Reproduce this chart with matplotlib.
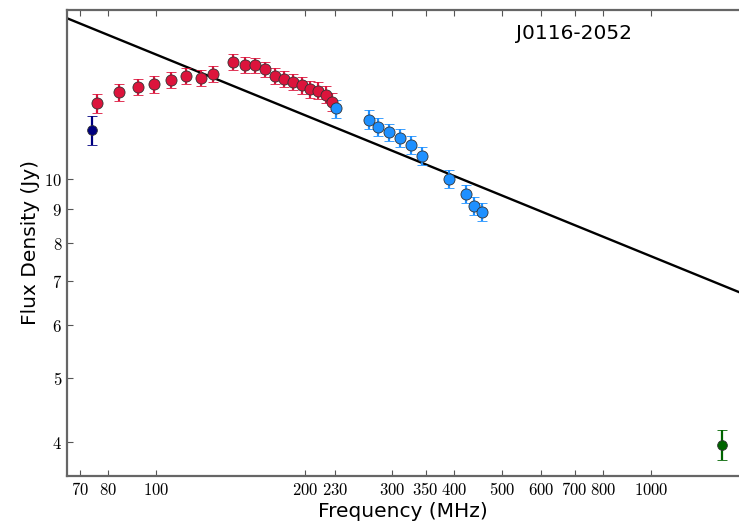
import numpy as np
import matplotlib.pyplot as plt
from matplotlib.ticker import FixedLocator, FixedFormatter, NullLocator

plt.rcParams['mathtext.fontset'] = 'cm'

source = 'J0116-2052'

# VLSSr 74 MHz
vlss_freq = [74]
vlss_flux = [11.85]
vlss_err = [0.6]

# GLEAM sub-bands
gleam_freq = [76, 84, 92, 99, 107, 115, 123, 130, 143, 151, 158, 166, 174, 181, 189, 197, 204, 212, 220, 227]
gleam_flux = [12.99, 13.51, 13.76, 13.89, 14.10, 14.28, 14.20, 14.40, 15.02, 14.87,
              14.84, 14.63, 14.28, 14.17, 14.01, 13.84, 13.64, 13.59, 13.39, 13.05]
gleam_err = [0.42, 0.40, 0.40, 0.40, 0.40, 0.40, 0.40, 0.40, 0.40, 0.40,
             0.40, 0.40, 0.40, 0.40, 0.40, 0.40, 0.40, 0.40, 0.40, 0.40]

# extended band
ext_freq = [231, 269, 280, 295, 311, 327, 344, 391, 422, 438, 455]
ext_flux = [12.77, 12.28, 11.97, 11.75, 11.51, 11.26, 10.83, 9.99, 9.48, 9.09, 8.91]
ext_err = [0.40, 0.40, 0.38, 0.36, 0.36, 0.35, 0.34, 0.31, 0.30, 0.28, 0.28]

# NVSS 1.4 GHz
nvss_freq = [1390]
nvss_flux = [3.96]
nvss_err = [0.2]

# power law fit  S = S100 * (nu/100)^alpha
S100 = 15.4
alpha = -0.305

xticks = [70, 80, 100, 200, 230, 300, 350, 400, 500, 600, 700, 800, 1000]
yticks = [4, 5, 6, 7, 8, 9, 10]

fig = plt.figure(figsize=(7.39, 5.25), dpi=100)
ax = fig.add_axes([0.0907, 0.0933, 0.9093, 0.888])

nu = np.array([60, 1600])
ax.plot(nu, S100 * (nu / 100.0) ** alpha, color='black', lw=1.7, zorder=1)

kw = dict(fmt='o', capsize=3.5, elinewidth=1.6, capthick=1.6, markeredgewidth=0.6,
          markeredgecolor='#333333', zorder=3)
ax.errorbar(vlss_freq, vlss_flux, yerr=vlss_err, color='navy', markersize=7,
            markerfacecolor='navy', **kw)
ax.errorbar(gleam_freq, gleam_flux, yerr=gleam_err, color='crimson', markersize=8,
            markerfacecolor='crimson', **kw)
ax.errorbar(ext_freq, ext_flux, yerr=ext_err, color='dodgerblue', markersize=8,
            markerfacecolor='dodgerblue', **kw)
ax.errorbar(nvss_freq, nvss_flux, yerr=nvss_err, color='darkgreen', markersize=7,
            markerfacecolor='darkgreen', **kw)

ax.set_xscale('log')
ax.set_yscale('log')
ax.set_xlim(66, 1505)
ax.set_ylim(3.55, 18.0)

ax.xaxis.set_major_locator(FixedLocator(xticks))
ax.xaxis.set_major_formatter(FixedFormatter(['$%d$' % t for t in xticks]))
ax.xaxis.set_minor_locator(NullLocator())
ax.yaxis.set_major_locator(FixedLocator(yticks))
ax.yaxis.set_major_formatter(FixedFormatter(['$%d$' % t for t in yticks]))
ax.yaxis.set_minor_locator(NullLocator())

ax.tick_params(which='both', direction='in', top=True, right=False, length=4,
               width=0.8, color='#555555', labelsize=12)
for sp in ax.spines.values():
    sp.set_color('#666666')
    sp.set_linewidth(1.6)
ax.spines['right'].set_visible(False)

ax.set_xlabel('Frequency (MHz)', fontsize=14.5, labelpad=2)
ax.set_ylabel('Flux Density (Jy)', fontsize=14.5, labelpad=3)
ax.text(0.755, 0.95, source, transform=ax.transAxes, fontsize=14.5,
        ha='center', va='center')

fig.savefig('out.png', dpi=100)
